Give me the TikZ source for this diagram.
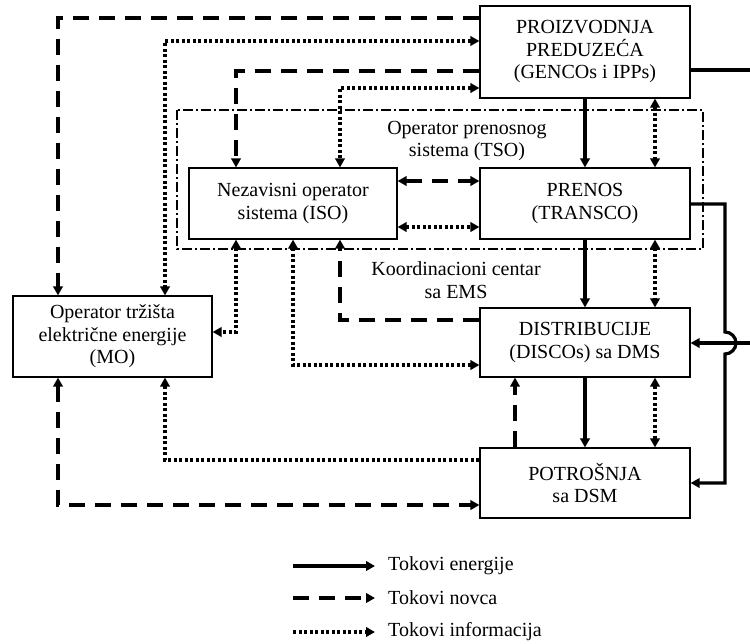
\documentclass[tikz,border=0pt]{standalone}
\usepackage{fontspec}
\setmainfont{Liberation Serif}
\usetikzlibrary{arrows.meta}

\begin{document}
\begin{tikzpicture}[x=1pt,y=-1pt,
    box/.style={draw,line width=1.2pt,inner sep=0pt,align=center,minimum width=210pt,font=\fontsize{20}{22.5}\selectfont},
    lbl/.style={inner sep=0pt,align=center,font=\fontsize{20}{22.5}\selectfont},
    tip/.style={-{Triangle[length=9pt,width=9.5pt]}},
    tips/.style={{Triangle[length=9pt,width=9.5pt]}-{Triangle[length=9pt,width=9.5pt]}},
    energy/.style={line width=3.2pt},
    money/.style={line width=4.2pt,dash pattern=on 16pt off 10pt},
    info/.style={line width=3.6pt,dash pattern=on 3.2pt off 2.3pt},
    tso/.style={line width=1.4pt,dash pattern=on 10pt off 3pt on 2pt off 3pt}]
    \useasboundingbox (0,0) rectangle (750,643);

    \node[box,minimum height=92pt] (gen) at (585,52) {PROIZVODNJA\\PREDUZEĆA\\(GENCOs i IPPs)};
    \draw[tso] (177,110) rectangle (703,249);
    \node[lbl] (tsol) at (467,141) {Operator prenosnog\\sistema (TSO)};
    \node[box,minimum width=208pt,minimum height=71pt] (iso) at (293,203.5) {Nezavisni operator\\sistema (ISO)};
    \node[box,minimum height=71pt] (pren) at (585,203.5) {PRENOS\\(TRANSCO)};
    \node[lbl] (kc) at (456,280) {Koordinacioni centar\\sa EMS};
    \node[box,minimum width=199pt,minimum height=81pt] (mo) at (112.5,336.5) {Operator tržišta\\električne energije\\(MO)};
    \node[box,minimum height=69pt] (dist) at (585,342.5) {DISTRIBUCIJE\\(DISCOs) sa DMS};
    \node[box,minimum height=70pt] (potr) at (585,483) {POTROŠNJA\\sa DSM};

    \coordinate (outg) at (750,70);
    \coordinate (ind) at (750,343);
    \coordinate (jmp) at (725,343);

    \draw[money,tip] (gen.west |- 0,18) -| (mo.north -| 58,0);
    \draw[info,tips] (gen.west |- 0,41) -| (mo.north -| 165,0);
    \draw[money,tip] (gen.west |- 0,71) -| (iso.north -| 236,0);
    \draw[info,tips] (gen.west |- 0,88) -| (iso.north -| 340,0);
    \draw[energy] (gen.east |- outg) -- (outg);
    \draw[energy,tip] (gen.south) -- (pren.north);
    \draw[info,tips] (gen.south -| 655,0) -- (pren.north -| 655,0);

    \draw[money,tips] (iso.east |- 0,181) -- (pren.west |- 0,181);
    \draw[info,tips] (iso.east |- 0,227) -- (pren.west |- 0,227);
    \draw[info,tips] (iso.south -| 236,0) |- (mo.east |- 0,332);
    \draw[info,tips] (iso.south -| 293,0) |- (dist.west |- 0,365);
    \draw[money,tip] (dist.west |- 0,320) -| (iso.south -| 340,0);

    \draw[energy,tip] (pren.south) -- (dist.north);
    \draw[info,tips] (pren.south -| 655,0) -- (dist.north -| 655,0);
    \draw[energy,tip] (pren.east |- 0,204) -| ([yshift=11pt]jmp) arc[start angle=-90,end angle=90,radius=11] |- (potr.east |- 0,483);
    \draw[energy,tip] (ind) -- (dist.east |- ind);

    \draw[energy,tip] (dist.south) -- (potr.north);
    \draw[info,tips] (dist.south -| 655,0) -- (potr.north -| 655,0);
    \draw[money,tip] (potr.north -| 515,0) -- (dist.south -| 515,0);
    \draw[info,tip] (potr.west |- 0,460) -| (mo.south -| 165,0);
    \draw[money,tips] (mo.south -| 58,0) |- (potr.west |- 0,505);

    \node[lbl,anchor=west] (leg1) at (388,566) {Tokovi energije};
    \node[lbl,anchor=west] (leg2) at (388,598) {Tokovi novca};
    \node[lbl,anchor=west] (leg3) at (388,632) {Tokovi informacija};
    \draw[energy,tip] ([xshift=-95pt]leg1.west) -- ([xshift=-13pt]leg1.west);
    \draw[money,tip] ([xshift=-95pt]leg2.west) -- ([xshift=-13pt]leg2.west);
    \draw[info,tip] ([xshift=-95pt]leg3.west) -- ([xshift=-13pt]leg3.west);
\end{tikzpicture}
\end{document}
